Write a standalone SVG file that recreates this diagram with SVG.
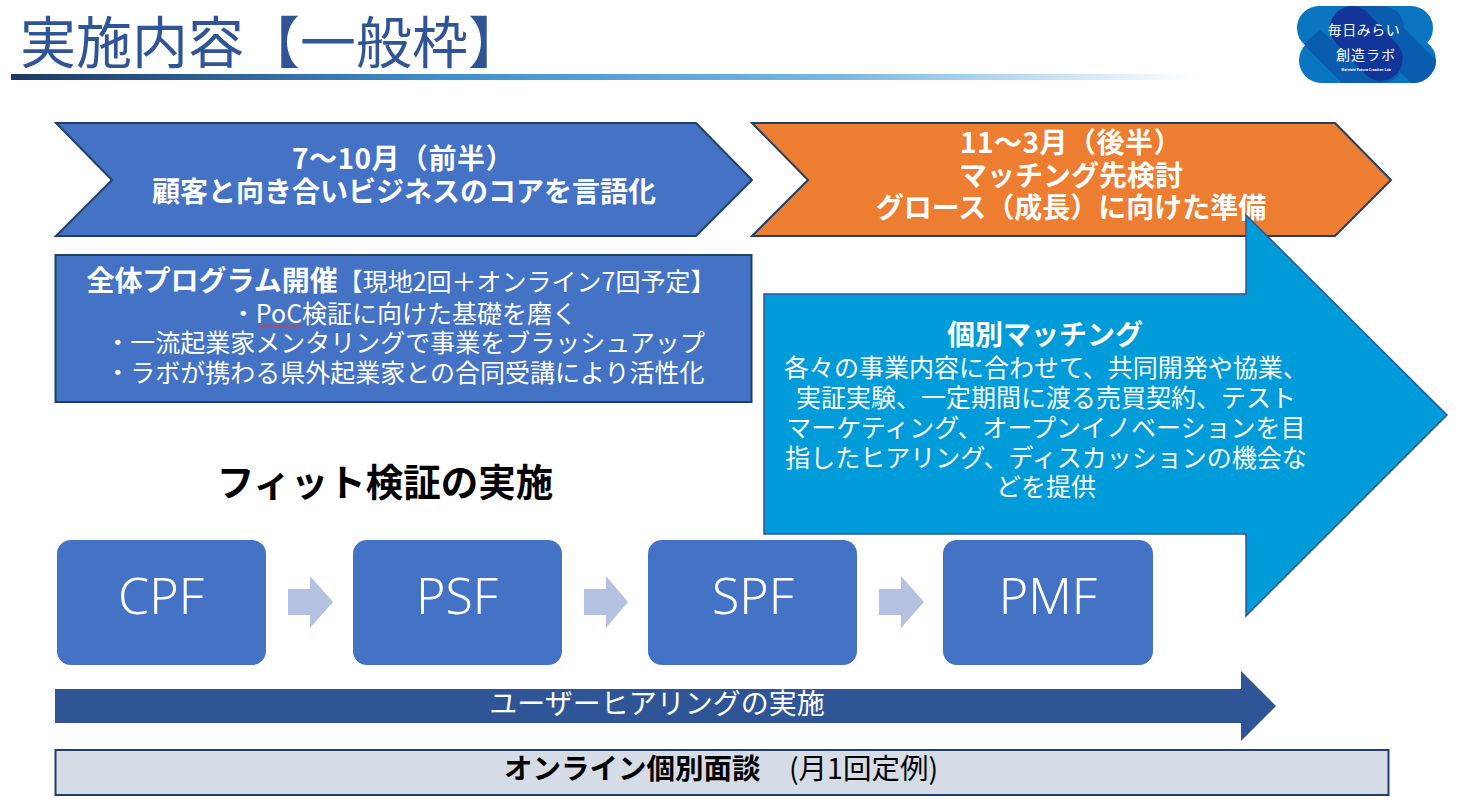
<svg xmlns="http://www.w3.org/2000/svg" width="1465" height="809" viewBox="0 0 1465 809">
<style>
text{font-family:"Noto Sans CJK JP","Noto Sans",sans-serif;fill:#fff;text-anchor:middle}
.b{font-weight:700}
.k{fill:#000}
.big{font-size:50px;font-weight:300;font-family:"Noto Sans","Noto Sans CJK JP",sans-serif}
.blue{fill:#4472c4;stroke:#1f3f68;stroke-width:2}
.step{fill:#4472c4}
.small{fill:#b4c1e0}
.body{font-size:25px}
.head{font-size:28px;font-weight:700}
.mid{fill:#0a5cae}
</style>
<defs>
<linearGradient id="rule" x1="0" x2="1" y1="0" y2="0">
<stop offset="0" stop-color="#1f3864"/><stop offset="0.36" stop-color="#3f8fcb"/><stop offset="0.7" stop-color="#7ab8e2"/><stop offset="1" stop-color="#ffffff"/>
</linearGradient>
<clipPath id="logoclip">
<rect x="1297" y="6" width="136" height="44" rx="22"/>
<rect x="1299" y="38" width="137" height="45" rx="22.500"/>
</clipPath>
</defs>
<g id="title">
<text x="20" y="63" font-size="56" style="text-anchor:start;fill:#2f5597" font-weight="400">実施内容【一般枠】</text>
<rect x="11" y="74" width="1189" height="6" fill="url(#rule)"/>
</g>
<g id="logo">
<g clip-path="url(#logoclip)">
<rect x="1290" y="0" width="150" height="90" fill="#0a76c2"/>
<path d="M1382 6L1440 64L1416 88L1360 32Z" class="mid"/>
<path d="M1303 44L1345 86H1390L1320 30Z" class="mid"/>
<rect x="1330" y="6" width="74" height="44" rx="22" class="mid"/>
<rect x="1331" y="38" width="73" height="45" rx="22.500" class="mid"/>
<path d="M1336.500 12.500A22 22 0 0 1 1367.500 12.500L1397.500 44.500A22 22 0 0 1 1366.500 75.500L1336.500 43.500A22 22 0 0 1 1336.500 12.500Z" fill="#12359a"/>
</g>
<text x="1364" y="35" font-size="14" letter-spacing="0.500">毎日みらい</text>
<text x="1366" y="60" font-size="14" letter-spacing="1">創造ラボ</text>
<text x="1366" y="71" font-size="3.500" class="b">Mainichi Future Creation Lab</text>
</g>
<g id="chevron-first">
<path class="blue" d="M56 123H696L752 180L696 236H56L112 180Z"/>
<text x="403" y="169" class="head" letter-spacing="0.500">7～10月（前半）</text>
<text x="404" y="202" class="head">顧客と向き合いビジネスのコアを言語化</text>
</g>
<g id="chevron-second">
<path fill="#ed7d31" stroke="#1f3f68" stroke-width="2" d="M752 123H1335L1391 180L1335 236H752L808 180Z"/>
<text x="1071" y="153" class="head" letter-spacing="0.500">11～3月（後半）</text>
<text x="1071" y="186" class="head">マッチング先検討</text>
<text x="1071" y="218" class="head">グロース（成長）に向けた準備</text>
</g>
<g id="program">
<rect class="blue" x="55.500" y="255" width="696" height="147"/>
<text x="401" y="291" class="body"><tspan class="head">全体プログラム開催</tspan>【現地2回＋オンライン7回予定】</text>
<text x="404" y="323" class="body">・PoC検証に向けた基礎を磨く</text>
<text x="405" y="352" class="body">・一流起業家メンタリングで事業をブラッシュアップ</text>
<text x="405" y="382" class="body">・ラボが携わる県外起業家との合同受講により活性化</text>
<path d="M257 326q1.500-2 3-0t3 0t3 0t3 0t3 0t3 0t3 0t3 0t3 0t3 0t3 0t3 0t3 0t3 0t3 0" fill="none" stroke="#d04040" stroke-width="1"/>
</g>
<g id="matching">
<path fill="#009bd9" stroke="#2f5597" stroke-width="1.500" d="M764 294H1246V215L1447 415L1246 616V534H764Z"/>
<text x="1045" y="345" class="head" font-size="26">個別マッチング</text>
<text x="1046" y="377" class="body">各々の事業内容に合わせて、共同開発や協業、</text>
<text x="1046" y="407" class="body">実証実験、一定期間に渡る売買契約、テスト</text>
<text x="1046" y="437" class="body">マーケティング、オープンイノベーションを目</text>
<text x="1046" y="467" class="body">指したヒアリング、ディスカッションの機会な</text>
<text x="1046" y="496" class="body">どを提供</text>
</g>
<text id="fit" x="385" y="496" class="b k" font-size="37.500">フィット検証の実施</text>
<g id="cpf"><rect class="step" x="57" y="540" width="209" height="125" rx="14"/><text x="161" y="614" class="big">CPF</text></g>
<g id="psf"><rect class="step" x="353" y="540" width="209" height="125" rx="14"/><text x="457" y="614" class="big">PSF</text></g>
<g id="spf"><rect class="step" x="648" y="540" width="209" height="125" rx="14"/><text x="753" y="614" class="big">SPF</text></g>
<g id="pmf"><rect class="step" x="943" y="540" width="210" height="125" rx="14"/><text x="1048" y="614" class="big">PMF</text></g>
<g id="connectors">
<path class="small" d="M288 589H310V576L333 602L310 628V615H288Z"/>
<path class="small" d="M584 589H606V576L628 602L606 628V615H584Z"/>
<path class="small" d="M879 589H901V576L924 602L901 628V615H879Z"/>
</g>
<g id="hearing">
<path fill="#2f5597" d="M55 689H1241V671L1276 706L1241 741V723H55Z"/>
<text x="657" y="714" font-size="28">ユーザーヒアリングの実施</text>
</g>
<g id="interview">
<rect x="55.500" y="750" width="1333" height="45" fill="#d6dce5" stroke="#1f3f68" stroke-width="2"/>
<text x="721" y="779" font-size="28.500" class="k"><tspan class="b">オンライン個別面談</tspan>　(月1回定例)</text>
</g>
</svg>
